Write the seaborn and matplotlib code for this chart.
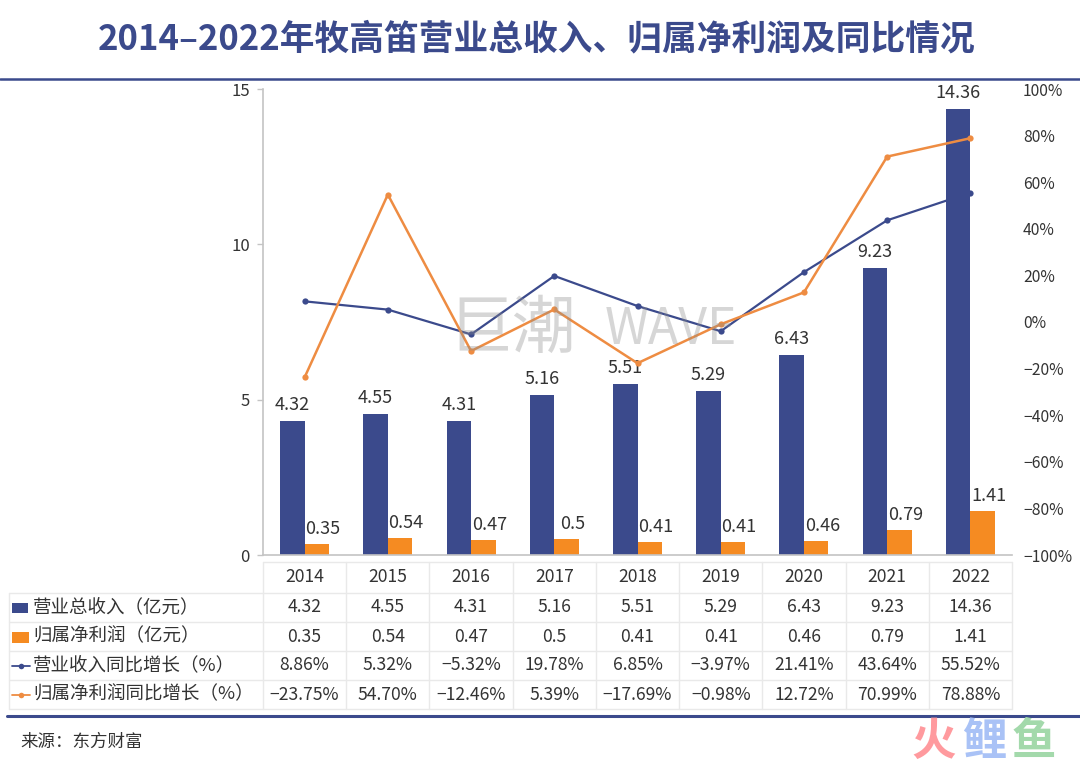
import matplotlib
matplotlib.use("Agg")
import matplotlib.pyplot as plt
from matplotlib.patches import Rectangle
import numpy as np
import pandas as pd
import seaborn as sns

years = ["2014", "2015", "2016", "2017", "2018", "2019", "2020", "2021", "2022"]
revenue = [4.32, 4.55, 4.31, 5.16, 5.51, 5.29, 6.43, 9.23, 14.36]
profit = [0.35, 0.54, 0.47, 0.5, 0.41, 0.41, 0.46, 0.79, 1.41]
revenue_yoy = [8.86, 5.32, -5.32, 19.78, 6.85, -3.97, 21.41, 43.64, 55.52]
profit_yoy = [-23.75, 54.70, -12.46, 5.39, -17.69, -0.98, 12.72, 70.99, 78.88]
row_names = ["营业总收入（亿元）", "归属净利润（亿元）", "营业收入同比增长（%）", "归属净利润同比增长（%）"]
left_ticks = [0, 5, 10, 15]
right_ticks = [-100, -80, -60, -40, -20, 0, 20, 40, 60, 80, 100]

NAVY = "#3b4a8c"
ORANGE = "#f58b22"
LINE_ORANGE = "#ee8c42"
TEXT = "#333333"
GRID = "#e9e9e9"

sns.set_theme(style="white")
plt.rcParams["font.family"] = ["Noto Sans CJK SC", "DejaVu Sans"]
plt.rcParams["axes.unicode_minus"] = False

W, H = 1080, 766
fig = plt.figure(figsize=(W / 100, H / 100), dpi=100)

# plot area in pixels of the reference
x0, x1, y0, y1 = 263, 1012, 89, 555
ax = fig.add_axes([x0 / W, 1 - y1 / H, (x1 - x0) / W, (y1 - y0) / H])

df = pd.DataFrame({
    "year": years * 2,
    "value": revenue + profit,
    "series": [row_names[0]] * 9 + [row_names[1]] * 9,
})
sns.barplot(data=df, x="year", y="value", hue="series", palette=[NAVY, ORANGE],
            width=0.59, gap=0, saturation=1, linewidth=0, legend=False, ax=ax)
ax.set_xlim(-0.5, 8.5)
ax.set_ylim(0, 15)
ax.set_xlabel("")
ax.set_ylabel("")
ax.set_yticks(left_ticks)
ax.tick_params(axis="x", bottom=False, labelbottom=False)
ax.tick_params(axis="y", left=True, length=4.5, width=1, color="#c4c4c4",
               labelsize=12, labelcolor=TEXT, pad=5)
for s in ["top", "right"]:
    ax.spines[s].set_visible(False)
for s in ["left", "bottom"]:
    ax.spines[s].set_color("#c4c4c4")
    ax.spines[s].set_linewidth(1.2)

# value labels, the orange ones sit a little right of their bar
for bar, v in zip(ax.containers[0], revenue):
    ax.annotate(f"{v:g}", (bar.get_x() + bar.get_width() / 2, v), xytext=(0, 16),
                textcoords="offset pixels", ha="center", va="center",
                fontsize=13, color=TEXT, annotation_clip=False)
for bar, v in zip(ax.containers[1], profit):
    ax.annotate(f"{v:g}", (bar.get_x() + bar.get_width() / 2, v), xytext=(6, 15),
                textcoords="offset pixels", ha="center", va="center",
                fontsize=13, color=TEXT, annotation_clip=False)

ax2 = ax.twinx()
pos = np.arange(len(years))
sns.lineplot(x=pos, y=revenue_yoy, color=NAVY, lw=1.6, marker="o", ms=4.5, mew=0, ax=ax2)
sns.lineplot(x=pos, y=profit_yoy, color=LINE_ORANGE, lw=1.8, marker="o", ms=4.5, mew=0, ax=ax2)
ax2.set_ylim(-100, 100)
ax2.set_yticks(right_ticks)
ax2.set_yticklabels([f"{t}%".replace("-", "\u2212") for t in right_ticks])
ax2.tick_params(axis="y", right=False, labelsize=11.3, labelcolor=TEXT, pad=2)
ax2.set_ylabel("")
for s in ax2.spines.values():
    s.set_visible(False)

# overlay in reference pixels for title, table, rules and marks of the page
ov = fig.add_axes([0, 0, 1, 1], facecolor="none")
ov.set_xlim(0, W)
ov.set_ylim(H, 0)
ov.axis("off")

ov.text(537, 39, "2014\u20132022年牧高笛营业总收入、归属净利润及同比情况", ha="center", va="center",
        fontsize=25, fontweight="bold", color=NAVY)
ov.plot([0, W], [79, 79], color=NAVY, lw=1.8)
ov.plot([7, W], [716, 716], color=NAVY, lw=2.2)
ov.text(20, 742, "来源：东方财富", ha="left", va="center", fontsize=12.6, color=TEXT)

# watermark
ov.text(512, 330, "巨潮", ha="center", va="center", fontsize=46, color="#8c8c8c", alpha=0.35)
ov.text(671, 330, "WAVE", ha="center", va="center", fontsize=36, color="#8c8c8c", alpha=0.35)

# table
cell = (x1 - x0) / 9
rows_y = [562, 593, 622, 651, 680, 709]
ov.plot([x0, x1], [rows_y[0], rows_y[0]], color=GRID, lw=1)
for y in rows_y[1:]:
    ov.plot([9, x1], [y, y], color=GRID, lw=1)
ov.plot([9, 9], [rows_y[1], rows_y[-1]], color=GRID, lw=1)
for i in range(10):
    ov.plot([x0 + i * cell] * 2, [rows_y[0], rows_y[-1]], color=GRID, lw=1)

table_rows = [
    years,
    [f"{v:g}" for v in revenue],
    [f"{v:g}" for v in profit],
    [f"{v:.2f}%".replace("-", "\u2212") for v in revenue_yoy],
    [f"{v:.2f}%".replace("-", "\u2212") for v in profit_yoy],
]
for r, labels in enumerate(table_rows):
    yc = (rows_y[r] + rows_y[r + 1]) / 2
    for i, s in enumerate(labels):
        ov.text(x0 + (i + 0.5) * cell, yc, s, ha="center", va="center", fontsize=12.6, color=TEXT)
for r, name in enumerate(row_names):
    yc = (rows_y[r + 1] + rows_y[r + 2]) / 2
    ov.text(33, yc, name, ha="left", va="center", fontsize=13.3, color=TEXT)

ov.add_patch(Rectangle((12, 603), 16, 10, color=NAVY, lw=0))
ov.add_patch(Rectangle((12, 632), 17, 11, color=ORANGE, lw=0))
ov.plot([12, 30], [666, 666], color=NAVY, lw=1.3)
ov.plot([21], [666], color=NAVY, marker="o", ms=4, mew=0)
ov.plot([12, 30], [695, 695], color=LINE_ORANGE, lw=1.3)
ov.plot([21], [695], color=LINE_ORANGE, marker="o", ms=4, mew=0)

# logo
for xc, ch, col in [(934, "火", "#ff9a9e"), (984, "鲤", "#a9c2f6"), (1034, "鱼", "#a3d9ab")]:
    ov.text(xc, 742, ch, ha="center", va="center", fontsize=32, fontweight="bold", color=col)

fig.savefig("out.png", dpi=100)
